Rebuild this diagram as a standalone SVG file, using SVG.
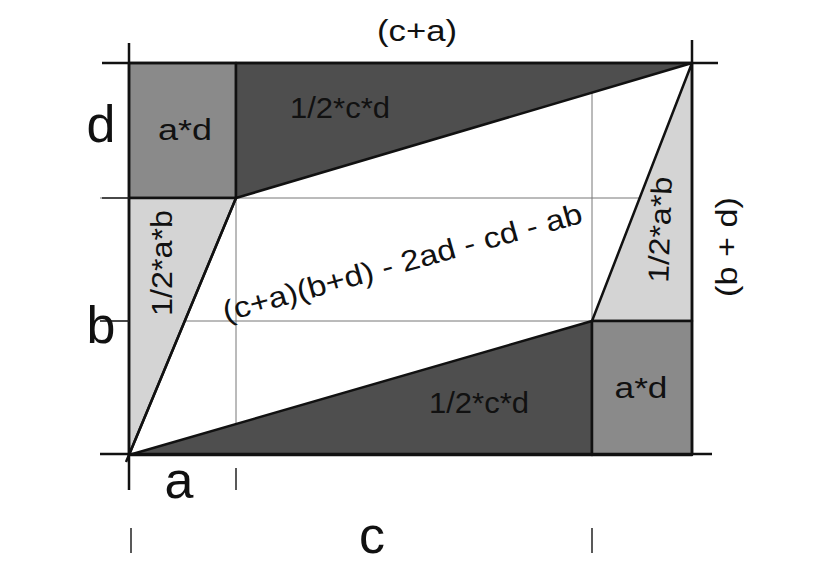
<svg xmlns="http://www.w3.org/2000/svg" width="828" height="579" viewBox="0 0 828 579">
<style>
  text { font-family: "Liberation Sans", Arial, sans-serif; fill: #111; }
  .edge { stroke: #111; stroke-width: 2.5; fill: none; stroke-linejoin: round; }
  .grid { stroke: #777; stroke-width: 1; fill: none; }
  .tick { stroke: #222; stroke-width: 1.5; fill: none; }
  .mid { fill: #8a8a8a; }
  .dark { fill: #4e4e4e; }
  .light { fill: #d4d4d4; }
  .lbl { font-size: 29px; text-anchor: middle; }
  .big { font-size: 52px; text-anchor: middle; }
</style>
<rect width="828" height="579" fill="#ffffff"/>

<g id="grid">
  <line class="grid" x1="100" y1="198" x2="692" y2="198"/>
  <line class="grid" x1="100" y1="321" x2="692" y2="321"/>
  <line class="grid" x1="236" y1="63" x2="236" y2="455"/>
  <line class="grid" x1="592" y1="63" x2="592" y2="455"/>
</g>

<g id="ad-top">
  <rect class="mid" x="129" y="63" width="107" height="135"/>
  <rect class="edge" x="129" y="63" width="107" height="135"/>
  <text class="lbl" x="185" y="140" textLength="54" lengthAdjust="spacingAndGlyphs">a*d</text>
</g>

<g id="cd-top">
  <polygon class="dark" points="236,63 692,63 236,198"/>
  <polygon class="edge" points="236,63 692,63 236,198"/>
  <text class="lbl" x="340" y="118" textLength="100" lengthAdjust="spacingAndGlyphs">1/2*c*d</text>
</g>

<g id="ab-left">
  <polygon class="light" points="129,198 236,198 129,455"/>
  <polygon class="edge" points="129,198 236,198 129,455"/>
  <text class="lbl" transform="translate(172,263) rotate(-90)" font-size="31" textLength="106" lengthAdjust="spacingAndGlyphs">1/2*a*b</text>
</g>

<g id="cd-bottom">
  <polygon class="dark" points="129,455 592,321 592,455"/>
  <polygon class="edge" points="129,455 592,321 592,455"/>
  <text class="lbl" x="479" y="413" textLength="100" lengthAdjust="spacingAndGlyphs">1/2*c*d</text>
</g>

<g id="ab-right">
  <polygon class="light" points="692,63 592,321 692,321"/>
  <polygon class="edge" points="692,63 592,321 692,321"/>
  <text class="lbl" transform="translate(670,230) rotate(-88)" font-size="31" textLength="106" lengthAdjust="spacingAndGlyphs">1/2*a*b</text>
</g>

<g id="ad-bottom">
  <rect class="mid" x="592" y="321" width="100" height="134"/>
  <rect class="edge" x="592" y="321" width="100" height="134"/>
  <text class="lbl" x="641" y="398" textLength="53" lengthAdjust="spacingAndGlyphs">a*d</text>
</g>

<g id="center">
  <text class="lbl" font-size="33" transform="translate(405,272) rotate(-15.5)" textLength="372" lengthAdjust="spacingAndGlyphs">(c+a)(b+d) - 2ad - cd - ab</text>
</g>

<g id="connectors">
  <line class="edge" x1="102" y1="63" x2="718" y2="63"/>
  <line class="edge" x1="100" y1="454" x2="712" y2="454"/>
  <line class="edge" x1="129" y1="43" x2="129" y2="490"/>
  <line class="edge" x1="692" y1="40" x2="692" y2="455"/>
  <line class="tick" x1="102" y1="198" x2="129" y2="198"/>
  <line class="tick" x1="100" y1="321" x2="129" y2="321"/>
  <line class="tick" x1="236" y1="468" x2="236" y2="490"/>
  <line class="tick" x1="131" y1="528" x2="131" y2="553"/>
  <line class="tick" x1="592" y1="528" x2="592" y2="553"/>
  <line class="edge" x1="236" y1="198" x2="126" y2="462"/>
</g>

<g id="labels">
  <text class="lbl" x="417" y="41" font-size="28" textLength="80" lengthAdjust="spacingAndGlyphs">(c+a)</text>
  <text class="lbl" transform="translate(737,247) rotate(-90)" font-size="33" textLength="100" lengthAdjust="spacingAndGlyphs">(b + d)</text>
  <text class="big" x="101" y="142">d</text>
  <text class="big" x="101" y="343">b</text>
  <text class="big" x="179" y="498">a</text>
  <text class="big" x="372" y="553">c</text>
</g>
</svg>
